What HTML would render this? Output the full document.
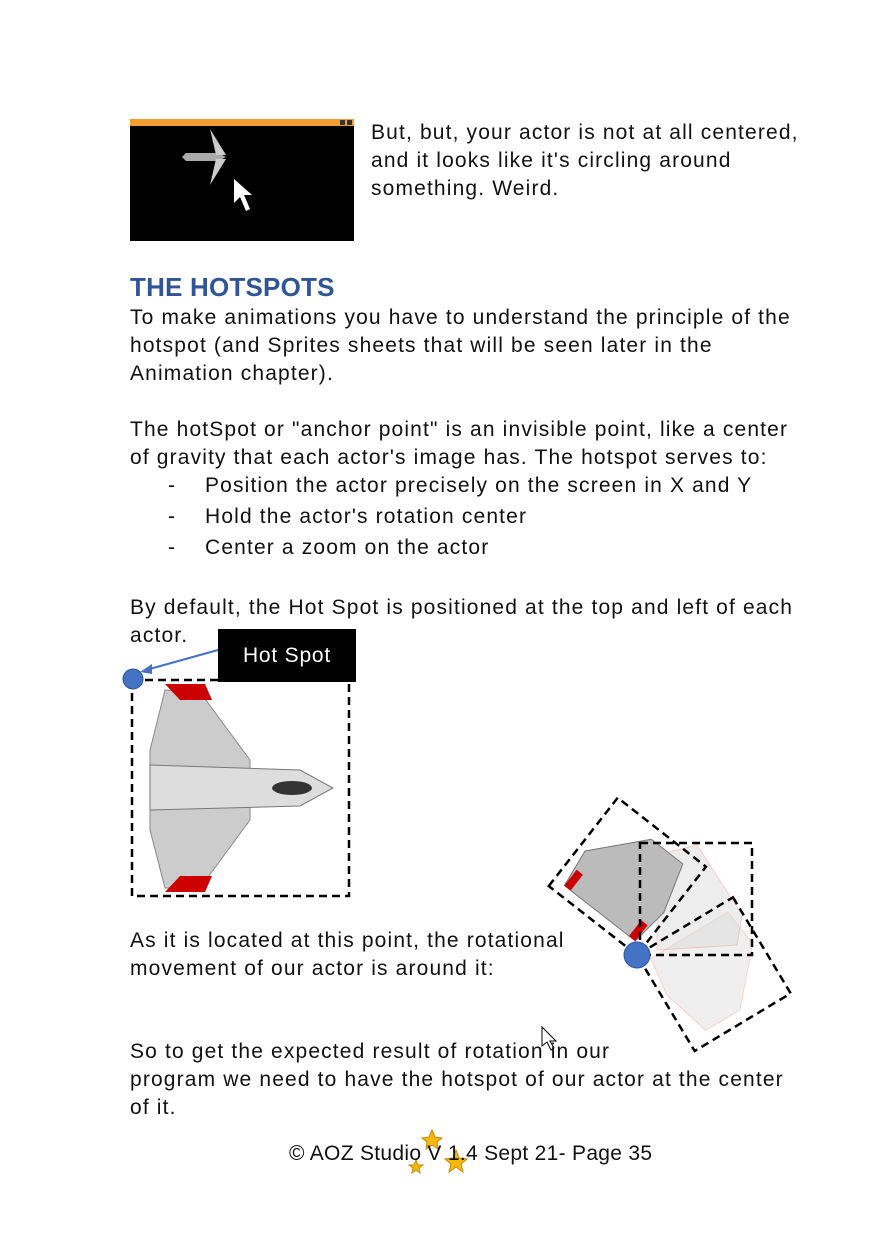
<!DOCTYPE html>
<html><head><meta charset="utf-8"><style>
body{margin:0;background:#fff}
#page{position:relative;width:873px;height:1240px;overflow:hidden;background:#fff;font-family:"Liberation Sans",sans-serif;color:#111}
.t{position:absolute;white-space:nowrap;font-size:21px;line-height:28px;letter-spacing:1.15px}
h2{position:absolute;margin:0;left:130px;top:272px;font-size:26px;color:#2F5597;font-weight:bold;letter-spacing:0.2px}
</style></head><body>
<div id="page">
<svg style="position:absolute;left:130px;top:119px" width="224" height="122">
<rect width="224" height="122" fill="#000"/><rect width="224" height="7" fill="#f0a030"/>
<rect x="210" y="1" width="5" height="5" fill="#333"/><rect x="217" y="1" width="5" height="5" fill="#333"/>
<polygon points="56,34 88,34 96,38 88,42 56,42 52,38" fill="#aaa"/>
<polygon points="80,10 96,36 86,36" fill="#ccc"/><polygon points="80,66 96,40 86,40" fill="#ccc"/>
<polygon points="104,60 104,84 110,78 116,92 120,90 114,76 122,76" fill="#fff"/>
</svg>
<div class="t" style="left:371px;top:119px">But, but, your actor is not at all centered,<br>and it looks like it's circling around<br>something. Weird.</div>
<h2>THE HOTSPOTS</h2>
<div class="t" style="left:130px;top:304px">To make animations you have to understand the principle of the<br>hotspot (and Sprites sheets that will be seen later in the<br>Animation chapter).</div>
<div class="t" style="left:130px;top:416px">The hotSpot or "anchor point" is an invisible point, like a center<br>of gravity that each actor's image has. The hotspot serves to:</div>
<div class="t" style="left:168px;top:472px">-</div><div class="t" style="left:205px;top:472px">Position the actor precisely on the screen in X and Y</div>
<div class="t" style="left:168px;top:503px">-</div><div class="t" style="left:205px;top:503px">Hold the actor's rotation center</div>
<div class="t" style="left:168px;top:534px">-</div><div class="t" style="left:205px;top:534px">Center a zoom on the actor</div>
<div class="t" style="left:130px;top:594px">By default, the Hot Spot is positioned at the top and left of each<br>actor.</div>
<div style="position:absolute;left:218px;top:629px;width:138px;height:53px;background:#000;color:#fff;font-size:21px;line-height:53px;text-align:center;letter-spacing:0.8px">Hot Spot</div>
<svg style="position:absolute;left:0;top:0" width="873" height="1240">
<line x1="218" y1="650" x2="146" y2="670" stroke="#4472C4" stroke-width="2"/>
<polygon points="140,672 152,664 152,674" fill="#4472C4"/>
<rect x="132" y="680" width="217" height="216" fill="none" stroke="#000" stroke-width="2.5" stroke-dasharray="8,5"/>
<g>
<polygon points="165,690 200,692 250,760 250,820 200,888 165,888 150,830 150,750" fill="#ccc" stroke="#888"/>
<polygon points="150,765 300,770 333,788 300,806 150,810" fill="#ddd" stroke="#777"/>
<ellipse cx="292" cy="788" rx="20" ry="7" fill="#333"/>
<polygon points="165,684 205,684 212,700 180,700" fill="#c00"/><polygon points="165,892 205,892 212,876 180,876" fill="#c00"/>
</g>
<circle cx="133" cy="679" r="10" fill="#4472C4" stroke="#2F5597"/>
<g transform="translate(637,955)">
<g transform="rotate(59)" opacity="0.45"><polygon points="10,-100 50,-105 100,-60 100,-20 50,-5 10,-10" fill="#ddd" stroke="#e99"/></g>
<g opacity="0.5"><polygon points="20,-100 60,-110 105,-40 100,-10 20,-5" fill="#ddd" stroke="#e99"/></g>
<g transform="rotate(-52)"><polygon points="10,-100 50,-105 100,-60 100,-20 50,-5 10,-10" fill="#bbb" stroke="#777"/><polygon points="10,-100 30,-100 30,-92 10,-92" fill="#c00"/><polygon points="10,-10 30,-10 30,-18 10,-18" fill="#c00"/></g>
<rect x="3" y="-112" width="112" height="112" fill="none" stroke="#000" stroke-width="2.5" stroke-dasharray="8,5"/>
<rect x="0" y="-112" width="112" height="112" transform="rotate(-52)" fill="none" stroke="#000" stroke-width="2.5" stroke-dasharray="8,5"/>
<rect x="0" y="-112" width="112" height="112" transform="rotate(59)" fill="none" stroke="#000" stroke-width="2.5" stroke-dasharray="8,5"/>
<circle cx="0" cy="0" r="13" fill="#4472C4" stroke="#2F5597"/>
</g>
<polygon points="542,1027 542,1046 547,1042 551,1050 554,1048 550,1041 556,1041" fill="#fff" stroke="#000"/>
<g fill="#F5B80F" stroke="#C88A00"><polygon points="432,1130 435,1137 442,1138 437,1142 438,1149 432,1145 426,1149 427,1142 422,1138 429,1137"/><polygon points="456,1150 459,1158 467,1159 461,1164 463,1172 456,1167 449,1172 451,1164 445,1159 453,1158"/><polygon points="416,1160 418,1165 423,1165 419,1168 420,1173 416,1170 412,1173 413,1168 409,1165 414,1165"/></g>
</svg>
<div class="t" style="left:130px;top:927px">As it is located at this point, the rotational<br>movement of our actor is around it:</div>
<div class="t" style="left:130px;top:1038px">So to get the expected result of rotation in our<br>program we need to have the hotspot of our actor at the center<br>of it.</div>
<div class="t" style="left:289px;top:1140px;letter-spacing:0.3px">© AOZ Studio V 1.4 Sept 21- Page 35</div>
</div>
</body></html>
